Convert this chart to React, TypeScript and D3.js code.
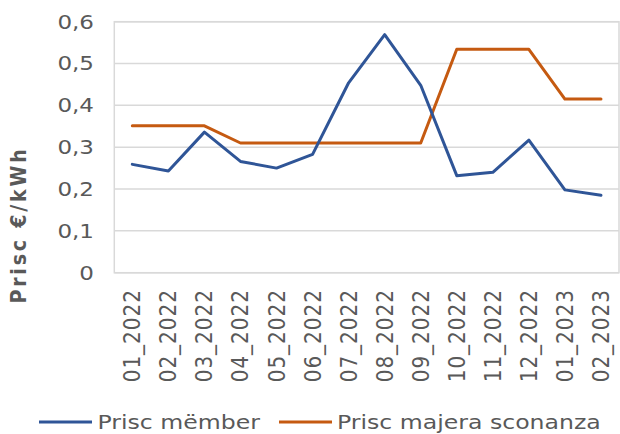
import React from 'react'
import { scaleLinear, scalePoint, line } from 'd3'

const months = ['01_2022', '02_2022', '03_2022', '04_2022', '05_2022', '06_2022', '07_2022',
  '08_2022', '09_2022', '10_2022', '11_2022', '12_2022', '01_2023', '02_2023']
const memberPrice = [0.259, 0.243, 0.336, 0.266, 0.25, 0.283, 0.454, 0.569, 0.448, 0.232, 0.24, 0.317, 0.198, 0.185]
const marketPrice = [0.351, 0.351, 0.351, 0.31, 0.31, 0.31, 0.31, 0.31, 0.31, 0.534, 0.534, 0.534, 0.415, 0.415]
const yTicks = [0, 0.1, 0.2, 0.3, 0.4, 0.5, 0.6]
const seriesNames = ['Prisc mëmber', 'Prisc majera sconanza']
const colors = ['#2F5597', '#C55A11']

const W = 620
const H = 434
const plot = { left: 114.3, right: 619, top: 21.7, bottom: 272.7 }
const stretch = 'scale(1.15,1)'
const font = '"DejaVu Sans", Verdana, sans-serif'
const textColor = '#595959'

const App = () => {
  const x = scalePoint<string>().domain(months).range([plot.left, plot.right]).padding(0.5)
  const y = scaleLinear().domain([0, 0.6]).range([plot.bottom, plot.top])

  const path = line<number>()
    .x((d, i) => x(months[i]) as number)
    .y(d => y(d))

  const legend = [
    { name: seriesNames[0], color: colors[0], x1: 39, x2: 92, tx: 97.5 },
    { name: seriesNames[1], color: colors[1], x1: 279, x2: 332, tx: 337 },
  ]

  return (
    <svg width={W} height={H} style={{ position: 'absolute', left: 0, top: 0, background: 'white' }}
      fontFamily={font}>
      {/* grid */}
      {yTicks.map(t => (
        <line key={t} x1={plot.left} x2={plot.right} y1={y(t)} y2={y(t)} stroke="#D9D9D9" strokeWidth={1.5} />
      ))}
      <rect x={plot.left} y={plot.top} width={plot.right - plot.left} height={plot.bottom - plot.top}
        fill="none" stroke="#D9D9D9" strokeWidth={1.5} />

      {/* y labels */}
      {yTicks.map(t => (
        <text key={t} transform={`translate(94,${y(t)}) ${stretch}`} textAnchor="end"
          dominantBaseline="central" fontSize={20} fill={textColor}>
          {t === 0 ? '0' : t.toFixed(1).replace('.', ',')}
        </text>
      ))}

      {/* x labels */}
      {months.map(m => (
        <text key={m} transform={`translate(${x(m)},289) ${stretch} rotate(-90)`} textAnchor="end"
          dominantBaseline="central" fontSize={20} letterSpacing={1} fill={textColor}>
          {m}
        </text>
      ))}

      {/* y title */}
      <text transform={`translate(19,225) ${stretch} rotate(-90)`} textAnchor="middle"
        dominantBaseline="central" fontSize={19} fontWeight="bold" fill={textColor}
        letterSpacing={2.8}>
        Prisc €/kWh
      </text>

      {/* series */}
      <path d={path(marketPrice) ?? ''} fill="none" stroke={colors[1]} strokeWidth={3} strokeLinejoin="round" strokeLinecap="round" />
      <path d={path(memberPrice) ?? ''} fill="none" stroke={colors[0]} strokeWidth={3} strokeLinejoin="round" strokeLinecap="round" />

      {/* legend */}
      {legend.map(l => (
        <g key={l.name}>
          <line x1={l.x1} x2={l.x2} y1={422} y2={422} stroke={l.color} strokeWidth={3} />
          <text transform={`translate(${l.tx},429) scale(1.18,1)`} fontSize={20} fill={textColor}>{l.name}</text>
        </g>
      ))}
    </svg>
  )
}

export default App
